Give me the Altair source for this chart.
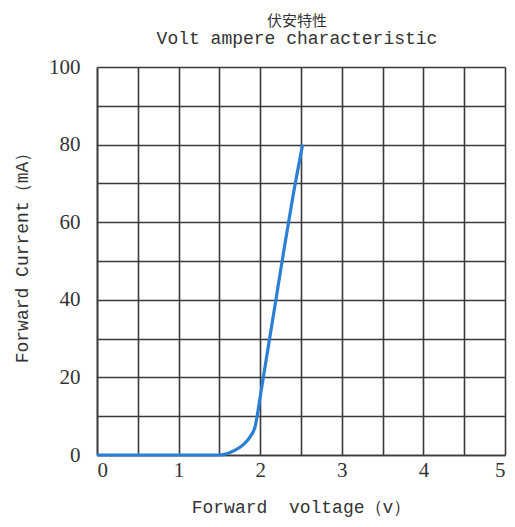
import altair as alt
import pandas as pd

voltage = [0.0, 0.5, 1.0, 1.5, 1.6, 1.7, 1.8, 1.88, 1.94, 1.97, 2.0, 2.1, 2.2, 2.3, 2.4, 2.52]
current = [0.0, 0.0, 0.0, 0.0, 0.4, 1.3, 2.8, 4.8, 7.5, 11.0, 15.0, 28.0, 41.0, 54.0, 66.5, 80.0]

x_grid = [0, 0.5, 1, 1.5, 2, 2.5, 3, 3.5, 4, 4.5, 5]
y_grid = [0, 10, 20, 30, 40, 50, 60, 70, 80, 90, 100]

df = pd.DataFrame({"V": voltage, "I": current})

grid_color = "#3a3a3a"
text_color = "#333333"

chart = alt.Chart(df).mark_line(
    color="#2a7fd6", strokeWidth=3.2, interpolate="monotone"
).encode(
    x=alt.X("V:Q", scale=alt.Scale(domain=[0, 5], nice=False),
            axis=alt.Axis(values=x_grid, ticks=False, grid=True,
                          gridColor=grid_color, gridWidth=1.6, gridOpacity=1,
                          domainColor=grid_color, domainWidth=1.6,
                          labelExpr="datum.value % 1 == 0 ? format(datum.value, 'd') : ''",
                          labelFont="Liberation Serif", labelFontSize=21,
                          labelColor=text_color, labelPadding=4,
                          title="Forward\u00a0\u00a0voltage（v）", titleFont="Liberation Mono",
                          titleFontSize=18, titleFontWeight="normal", titleColor=text_color,
                          titleX=204, titleY=52, titleBaseline="middle", titleAlign="center")),
    y=alt.Y("I:Q", scale=alt.Scale(domain=[0, 100], nice=False),
            axis=alt.Axis(values=y_grid, ticks=False, grid=True,
                          gridColor=grid_color, gridWidth=1.6, gridOpacity=1,
                          domainColor=grid_color, domainWidth=1.6,
                          labelExpr="datum.value % 20 == 0 ? format(datum.value, 'd') : ''",
                          labelFont="Liberation Serif", labelFontSize=21,
                          labelColor=text_color, labelPadding=17,
                          title="Forward Current（mA）", titleFont="Liberation Mono",
                          titleFontSize=18, titleFontWeight="normal", titleColor=text_color,
                          titleAngle=-90, titleX=-75, titleY=186,
                          titleBaseline="middle", titleAlign="center")),
).properties(
    width=408,
    height=388,
    autosize=alt.AutoSizeParams(type="none"),
    padding={"left": 89, "top": 59, "right": 2, "bottom": 63},
    title=alt.TitleParams(
        text="伏安特性",
        subtitle="Volt ampere characteristic",
        font="Noto Sans CJK SC", fontSize=15, fontWeight="normal", color=text_color,
        subtitleFont="Liberation Mono", subtitleFontSize=18, subtitleColor=text_color,
        subtitlePadding=1, anchor="middle", offset=8, dx=-4,
    ),
).configure_view(stroke=grid_color, strokeWidth=1.6).configure(background="white")

chart.save("out.html", embed_options={"renderer": "svg", "actions": False})
